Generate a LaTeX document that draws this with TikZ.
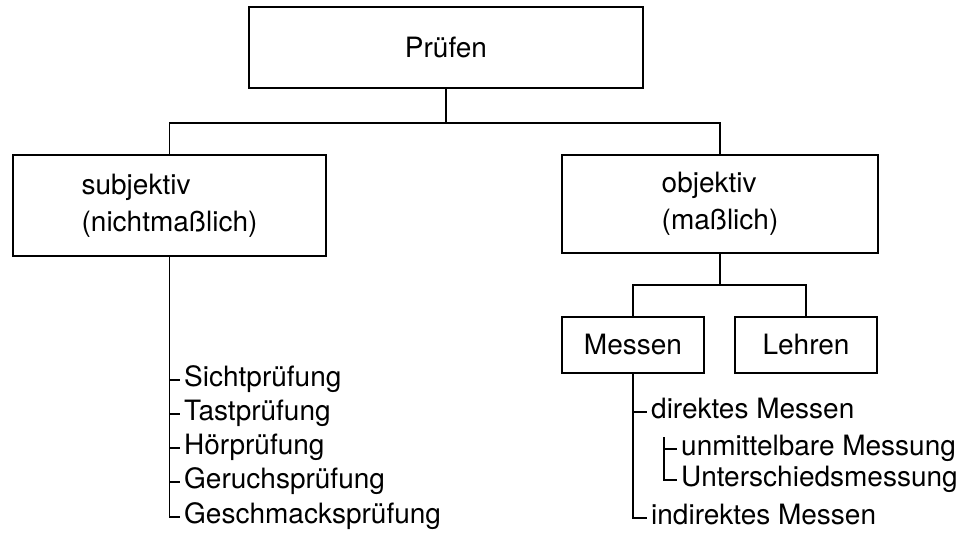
\documentclass[tikz,border=0pt]{standalone}
\usepackage{fontspec}
\setmainfont{TeX Gyre Heros}
\begin{document}
\begin{tikzpicture}[x=1pt,y=-1pt,
  font=\fontsize{28}{37}\selectfont,
  box/.style={draw, line width=1.4pt, inner sep=0pt, align=center},
  item/.style={anchor=west, inner sep=4pt, text height=19pt, text depth=6pt},
  conn/.style={line width=1.1pt}]
\useasboundingbox (0,0) rectangle (958,540);
% boxes
\node[box, minimum width=394pt, minimum height=81pt] (pruefen) at (446,47.5) {Prüfen};
\node[box, minimum width=313pt, minimum height=101pt, align=left] (subj) at (169.5,205.5) {subjektiv\\(nichtmaßlich)};
\node[box, minimum width=316pt, minimum height=98pt, align=left] (obj) at (720,204) {objektiv\\(maßlich)};
\node[box, minimum width=142pt, minimum height=56pt] (messen) at (633,345) {Messen};
\node[box, minimum width=142pt, minimum height=56pt] (lehren) at (806,345) {Lehren};
% left list
\node[item] (s1) at (180,380) {Sichtprüfung};
\node[item] (s2) at (180,414) {Tastprüfung};
\node[item] (s3) at (180,448) {Hörprüfung};
\node[item] (s4) at (180,482) {Geruchsprüfung};
\node[item] (s5) at (180,517) {Geschmacksprüfung};
% right list
\node[item] (d1) at (647,412) {direktes Messen};
\node[item] (d2) at (677,449) {unmittelbare Messung};
\node[item] (d3) at (677,480) {Unterschiedsmessung};
\node[item] (d4) at (647,518) {indirektes Messen};
% connectors
\coordinate (j1) at (446,123);
\draw[conn] (pruefen.south) -- (j1);
\draw[conn] (subj.north) -- (subj.north |- j1) -- (obj.north |- j1) -- (obj.north);
\draw[conn] (subj.south) -- (subj.south |- s5.west) -- (s5.west);
\foreach \n in {s1,s2,s3,s4} \draw[conn] (\n.west -| subj.south) -- (\n.west);
\coordinate (j2) at (720,285);
\draw[conn] (obj.south) -- (obj.south |- j2);
\draw[conn] (messen.north) -- (messen.north |- j2) -- (lehren.north |- j2) -- (lehren.north);
\draw[conn] (messen.south) -- (messen.south |- d4.west) -- (d4.west);
\draw[conn] (d1.west -| messen.south) -- (d1.west);
\coordinate (k) at (664,437);
\draw[conn] (k) -- (k |- d3.west) -- (d3.west);
\draw[conn] (d2.west -| k) -- (d2.west);
\end{tikzpicture}
\end{document}
